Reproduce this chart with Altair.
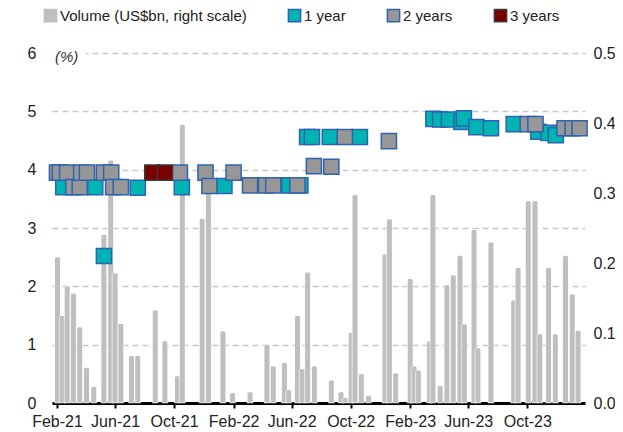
import altair as alt
import pandas as pd

FONT = "Liberation Sans"

# Volume bars (US$bn, right scale)
bar_dates = [
    "2021-02-02", "2021-02-12", "2021-02-22", "2021-03-07", "2021-03-20", "2021-04-03",
    "2021-04-18", "2021-05-09", "2021-05-23", "2021-06-01", "2021-06-13", "2021-07-05",
    "2021-07-18", "2021-08-23", "2021-09-12", "2021-10-08", "2021-10-18", "2021-11-28",
    "2021-12-11", "2022-01-10", "2022-01-30", "2022-03-07", "2022-04-11", "2022-04-24",
    "2022-05-17", "2022-05-26", "2022-06-13", "2022-06-23", "2022-07-04", "2022-07-18",
    "2022-08-22", "2022-09-11", "2022-09-20", "2022-10-02", "2022-10-10", "2022-10-23",
    "2022-11-07", "2022-12-11", "2022-12-20", "2023-01-02", "2023-02-01", "2023-02-09",
    "2023-02-18", "2023-03-13", "2023-03-20", "2023-04-04", "2023-04-18", "2023-05-01",
    "2023-05-15", "2023-05-24", "2023-06-13", "2023-06-21", "2023-07-18", "2023-09-03",
    "2023-09-12", "2023-10-03", "2023-10-17", "2023-10-27", "2023-11-14", "2023-11-28",
    "2023-12-19", "2024-01-02", "2024-01-14",
]
bar_volume = [
    0.209, 0.125, 0.167, 0.157, 0.109, 0.051,
    0.024, 0.241, 0.347, 0.186, 0.114, 0.068,
    0.068, 0.133, 0.089, 0.039, 0.398, 0.264,
    0.310, 0.103, 0.015, 0.016, 0.084, 0.053,
    0.058, 0.019, 0.125, 0.049, 0.187, 0.053,
    0.033, 0.016, 0.008, 0.101, 0.298, 0.042,
    0.011, 0.213, 0.263, 0.043, 0.178, 0.053,
    0.047, 0.089, 0.298, 0.025, 0.169, 0.183,
    0.211, 0.113, 0.248, 0.079, 0.230, 0.147,
    0.194, 0.289, 0.289, 0.099, 0.194, 0.099,
    0.211, 0.156, 0.104,
]

# Yields (%), left scale
one_year_dates = [
    "2021-02-14", "2021-04-21", "2021-05-09", "2021-07-18", "2021-10-17", "2022-01-13",
    "2022-05-27", "2022-06-19", "2022-07-03", "2022-07-13", "2022-08-19", "2022-10-20",
    "2023-03-21", "2023-04-04", "2023-04-22", "2023-05-18", "2023-05-23", "2023-06-18",
    "2023-07-18", "2023-09-03", "2023-10-24", "2023-11-14", "2023-11-29",
]
one_year_yield = [
    3.70, 3.70, 2.52, 3.69, 3.70, 3.72,
    3.73, 3.73, 4.56, 4.56, 4.56, 4.56,
    4.87, 4.86, 4.86, 4.82, 4.88, 4.73,
    4.71, 4.78, 4.65, 4.63, 4.59,
]
two_year_dates = [
    "2021-02-01", "2021-02-07", "2021-02-22", "2021-03-07", "2021-03-20", "2021-03-23",
    "2021-04-04", "2021-05-09", "2021-05-24", "2021-05-28", "2021-06-13", "2021-10-13",
    "2021-12-05", "2021-12-13", "2022-02-01", "2022-03-07", "2022-04-09", "2022-04-24",
    "2022-06-13", "2022-07-17", "2022-08-22", "2022-09-19", "2022-12-19", "2023-10-02",
    "2023-10-18", "2023-12-17", "2024-01-03", "2024-01-17",
]
two_year_yield = [
    3.95, 3.95, 3.95, 3.70, 3.70, 3.95,
    3.95, 3.95, 3.95, 3.70, 3.70, 3.95,
    3.95, 3.72, 3.95, 3.73, 3.73, 3.73,
    3.73, 4.06, 4.05, 4.56, 4.49, 4.78,
    4.78, 4.71, 4.71, 4.71,
]
three_year_dates = ["2021-08-17", "2021-09-12"]
three_year_yield = [3.95, 3.95]

series_names = ["Volume (US$bn, right scale)", "1 year", "2 years", "3 years"]
fill_colors = ["#bfbfbf", "#00b4b4", "#979797", "#7a0000"]
stroke_colors = ["#bfbfbf", "#2e63ae", "#2e63ae", "#3a3a3a"]
x_tick_dates = [(2021, 2), (2021, 6), (2021, 10), (2022, 2), (2022, 6), (2022, 10),
                (2023, 2), (2023, 6), (2023, 10)]

bars_df = pd.DataFrame({"date": bar_dates, "value": bar_volume, "series": series_names[0]})
pts_df = pd.concat([
    pd.DataFrame({"date": one_year_dates, "yield": one_year_yield, "series": series_names[1]}),
    pd.DataFrame({"date": two_year_dates, "yield": two_year_yield, "series": series_names[2]}),
    pd.DataFrame({"date": three_year_dates, "yield": three_year_yield, "series": series_names[3]}),
], ignore_index=True)

legend = alt.Legend(
    title=None, orient="none", legendX=-9, legendY=-45, direction="horizontal",
    columns=4, columnPadding=38, labelFont=FONT, labelFontSize=15, labelColor="#222",
    labelLimit=0, symbolType="square", symbolSize=150, symbolStrokeWidth=1.5,
    labelOffset=2, padding=0, rowPadding=0,
)
color_scale = alt.Scale(domain=series_names, range=fill_colors)
stroke_scale = alt.Scale(domain=series_names, range=stroke_colors)

x_enc = alt.X(
    "date:T",
    title=None,
    scale=alt.Scale(type="utc", domain=[alt.DateTime(year=2021, month=2, date=1, utc=True),
                                        alt.DateTime(year=2024, month=1, date=18, utc=True)]),
    axis=alt.Axis(
        values=[alt.DateTime(year=y, month=m, date=1, utc=True) for y, m in x_tick_dates],
        format="%b-%y", labelFont=FONT, labelFontSize=16, labelColor="#222",
        domainColor="black", domainWidth=3, tickColor="black", tickWidth=2, tickSize=5,
        labelPadding=5, grid=False,
    ),
)

bars = alt.Chart(bars_df).mark_bar(
    width=6, stroke="white", strokeWidth=0.5,
    cornerRadiusTopLeft=2.5, cornerRadiusTopRight=2.5,
).encode(
    x=x_enc,
    y=alt.Y("value:Q", title=None, scale=alt.Scale(domain=[0, 0.5]),
            axis=alt.Axis(orient="right", values=[0, 0.1, 0.2, 0.3, 0.4, 0.5], format=".1f",
                          grid=False, domain=False, ticks=False, labelPadding=8,
                          labelFont=FONT, labelFontSize=16, labelColor="#222")),
    color=alt.Color("series:N", scale=color_scale, legend=legend),
)

points = alt.Chart(pts_df).mark_point(
    shape="square", size=230, filled=True, strokeWidth=1.5, opacity=1,
).encode(
    x=x_enc,
    y=alt.Y("yield:Q", title=None, scale=alt.Scale(domain=[0, 6]),
            axis=alt.Axis(orient="left", values=[0, 1, 2, 3, 4, 5, 6], grid=True,
                          gridDash=[6, 4], gridColor="#c8c8c8", gridWidth=1.3,
                          domain=False, ticks=False, labelPadding=16,
                          labelFont=FONT, labelFontSize=16, labelColor="#222")),
    color=alt.Color("series:N", scale=color_scale, legend=legend),
    stroke=alt.Stroke("series:N", scale=stroke_scale, legend=legend),
)

mask = alt.Chart(alt.Data(values=[{}])).mark_rect(color="white").encode(
    x=alt.value(0), x2=alt.value(34), y=alt.value(-3), y2=alt.value(3)
)
pct = alt.Chart(alt.Data(values=[{}])).mark_text(
    text="(%)", fontStyle="italic", font=FONT, fontSize=15, color="#333",
    align="left", baseline="middle",
).encode(x=alt.value(3), y=alt.value(4))

chart = alt.layer(bars, mask, pct, points).resolve_scale(y="independent").properties(
    width=533, height=350,
    autosize=alt.AutoSizeParams(type="none"),
    padding={"left": 44, "top": 45, "right": 30, "bottom": 28},
).configure_view(strokeWidth=0)

chart.save("out.html", embed_options={"renderer": "svg", "actions": False})
